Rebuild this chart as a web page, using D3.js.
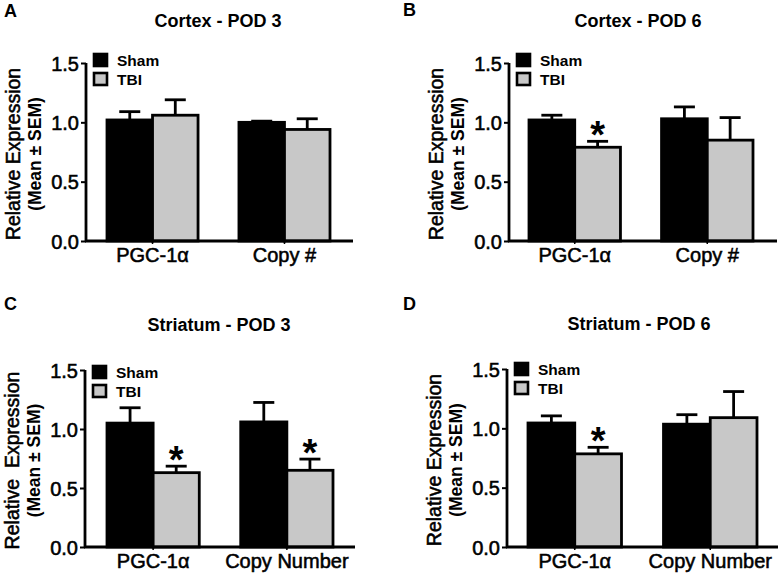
<!DOCTYPE html>
<html>
<head>
<meta charset="utf-8">
<script src="https://cdn.jsdelivr.net/npm/d3@7"></script>
<style>
  html, body { margin: 0; padding: 0; background: #fff; }
  svg { display: block; font-family: "Liberation Sans", Arial, sans-serif; }
</style>
</head>
<body>
<svg id="chart" width="780" height="575"></svg>
<script>
// ---------------- DATA ----------------
const panelLetters = ["A", "B", "C", "D"];
const panelTitles = ["Cortex - POD 3", "Cortex - POD 6", "Striatum - POD 3", "Striatum - POD 6"];
const categoriesCortex = ["PGC-1\u03B1", "Copy #"];
const categoriesStriatum = ["PGC-1\u03B1", "Copy Number"];
const seriesNames = ["Sham", "TBI"];
const yTickValues = [0.0, 0.5, 1.0, 1.5];
const yLabelLine1 = ["Relative Expression", "Relative Expression", "Relative  Expression", "Relative Expression"];
const yLabelLine2 = "(Mean \u00B1 SEM)";

const shamMeanA = [1.02, 1.00], shamSemA = [0.07, 0.01];
const tbiMeanA  = [1.06, 0.94], tbiSemA  = [0.13, 0.09];
const sigA = [false, false];

const shamMeanB = [1.02, 1.03], shamSemB = [0.04, 0.10];
const tbiMeanB  = [0.79, 0.85], tbiSemB  = [0.05, 0.19];
const sigB = [true, false];

const shamMeanC = [1.05, 1.06], shamSemC = [0.13, 0.165];
const tbiMeanC  = [0.63, 0.65], tbiSemC  = [0.055, 0.095];
const sigC = [true, true];

const shamMeanD = [1.045, 1.035], shamSemD = [0.06, 0.08];
const tbiMeanD  = [0.785, 1.09], tbiSemD  = [0.055, 0.22];
const sigD = [true, false];

// ---------------- LAYOUT ----------------
const layout = [
  { axisX: 86,  axisEnd: 353, yTop: 63,  yBot: 241, bandStart: 107, bandEnd: 330, legendY: 53,  titleX: 218, titleY: 27,  letterX: 4,   letterY: 17 },
  { axisX: 509, axisEnd: 777, yTop: 63,  yBot: 241, bandStart: 529, bandEnd: 753, legendY: 53,  titleX: 638, titleY: 27,  letterX: 403, letterY: 16 },
  { axisX: 85,  axisEnd: 355, yTop: 370, yBot: 547, bandStart: 107, bandEnd: 333, legendY: 365, titleX: 219, titleY: 331, letterX: 4,   letterY: 310 },
  { axisX: 507, axisEnd: 778, yTop: 369, yBot: 547, bandStart: 528, bandEnd: 757, legendY: 362, titleX: 639, titleY: 330, letterX: 403, letterY: 310 }
];

const panelData = [
  { cats: categoriesCortex,   sham: shamMeanA, shamSem: shamSemA, tbi: tbiMeanA, tbiSem: tbiSemA, sig: sigA },
  { cats: categoriesCortex,   sham: shamMeanB, shamSem: shamSemB, tbi: tbiMeanB, tbiSem: tbiSemB, sig: sigB },
  { cats: categoriesStriatum, sham: shamMeanC, shamSem: shamSemC, tbi: tbiMeanC, tbiSem: tbiSemC, sig: sigC },
  { cats: categoriesStriatum, sham: shamMeanD, shamSem: shamSemD, tbi: tbiMeanD, tbiSem: tbiSemD, sig: sigD }
];

const colors = { Sham: "#000000", TBI: "#c8c8c8" };
const SW = 2.8;
const TEXT_STROKE = 0.55;
const svg = d3.select("#chart");

function heavy(sel, w) {
  return sel.attr("stroke", "#000").attr("stroke-width", w).attr("paint-order", "stroke");
}

panelData.forEach((pd, i) => {
  const L = layout[i];
  const g = svg.append("g");

  const y = d3.scaleLinear().domain([0, 1.5]).range([L.yBot, L.yTop]);
  const x0 = d3.scaleBand().domain(pd.cats).range([L.bandStart, L.bandEnd]).paddingInner(0.31).paddingOuter(0);
  const x1 = d3.scaleBand().domain(seriesNames).range([0, x0.bandwidth()]).padding(0);

  const rows = [];
  pd.cats.forEach((c, k) => {
    rows.push({ cat: c, s: "Sham", v: pd.sham[k], e: pd.shamSem[k], sig: false });
    rows.push({ cat: c, s: "TBI", v: pd.tbi[k], e: pd.tbiSem[k], sig: pd.sig[k] });
  });

  // error bars
  const eb = g.append("g").attr("stroke", "#000").attr("stroke-width", SW).attr("fill", "none");
  rows.forEach(r => {
    const cx = x0(r.cat) + x1(r.s) + x1.bandwidth() / 2;
    eb.append("line").attr("x1", cx).attr("x2", cx).attr("y1", y(r.v)).attr("y2", y(r.v + r.e));
    eb.append("line").attr("x1", cx - 10.5).attr("x2", cx + 10.5).attr("y1", y(r.v + r.e)).attr("y2", y(r.v + r.e));
  });

  // bars
  g.append("g").selectAll("rect").data(rows).join("rect")
    .attr("x", r => x0(r.cat) + x1(r.s))
    .attr("y", r => y(r.v))
    .attr("width", x1.bandwidth())
    .attr("height", r => y(0) - y(r.v))
    .attr("fill", r => colors[r.s])
    .attr("stroke", "#000")
    .attr("stroke-width", SW);

  // significance stars
  g.append("g").selectAll("text").data(rows.filter(r => r.sig)).join("text")
    .attr("x", r => x0(r.cat) + x1(r.s) + x1.bandwidth() / 2)
    .attr("y", r => y(r.v + r.e) + 7)
    .attr("text-anchor", "middle")
    .attr("font-size", 38)
    .attr("font-weight", "bold")
    .text("*");

  // y axis
  const ya = g.append("g").attr("transform", `translate(${L.axisX},0)`)
    .call(d3.axisLeft(y).tickValues(yTickValues).tickFormat(d3.format(".1f")).tickSize(5).tickSizeOuter(0).tickPadding(2));
  ya.select(".domain").attr("stroke-width", SW).attr("d", `M0,${L.yTop}V${L.yBot}`);
  ya.selectAll(".tick line").attr("stroke-width", 2);
  heavy(ya.selectAll(".tick text").attr("font-size", 20).attr("font-family", "Liberation Sans, Arial, sans-serif").attr("fill", "#000").attr("dy", "0.36em"), TEXT_STROKE);

  // x axis
  const xa = g.append("g").attr("transform", `translate(0,${L.yBot})`)
    .call(d3.axisBottom(x0).tickSize(3).tickSizeOuter(0).tickPadding(3));
  xa.select(".domain").attr("stroke-width", SW).attr("d", `M${L.axisX - 1},0H${L.axisEnd}`);
  xa.selectAll(".tick line").attr("stroke-width", 1.5);
  heavy(xa.selectAll(".tick text").attr("font-size", 20).attr("font-family", "Liberation Sans, Arial, sans-serif").attr("fill", "#000").attr("dy", "0.75em"), TEXT_STROKE);

  // legend
  const lg = g.append("g").attr("transform", `translate(${L.axisX + 7},${L.legendY})`);
  seriesNames.forEach((s, k) => {
    lg.append("rect").attr("x", 1).attr("y", k * 19 + 1).attr("width", 13).attr("height", 12)
      .attr("fill", colors[s]).attr("stroke", "#000").attr("stroke-width", 2.6);
    lg.append("text").attr("x", 24).attr("y", k * 19 + 13)
      .attr("font-size", 15.5).attr("font-weight", "bold").text(s);
  });

  // title
  g.append("text").attr("x", L.titleX).attr("y", L.titleY).attr("text-anchor", "middle")
    .attr("font-size", 18).attr("font-weight", "bold").text(panelTitles[i]);

  // panel letter
  g.append("text").attr("x", L.letterX).attr("y", L.letterY)
    .attr("font-size", 18).attr("font-weight", "bold").text(panelLetters[i]);

  // y labels
  const cy = (L.yTop + L.yBot) / 2 + 2;
  heavy(g.append("text").attr("transform", `translate(${L.axisX - 66},${cy}) rotate(-90)`)
    .attr("text-anchor", "middle").attr("font-size", 19.5).attr("xml:space", "preserve")
    .style("white-space", "pre").text(yLabelLine1[i]), TEXT_STROKE);
  g.append("text").attr("transform", `translate(${L.axisX - 45},${cy}) rotate(-90)`)
    .attr("text-anchor", "middle").attr("font-size", 17.5).attr("font-weight", "bold")
    .text(yLabelLine2);
});
</script>
</body>
</html>
